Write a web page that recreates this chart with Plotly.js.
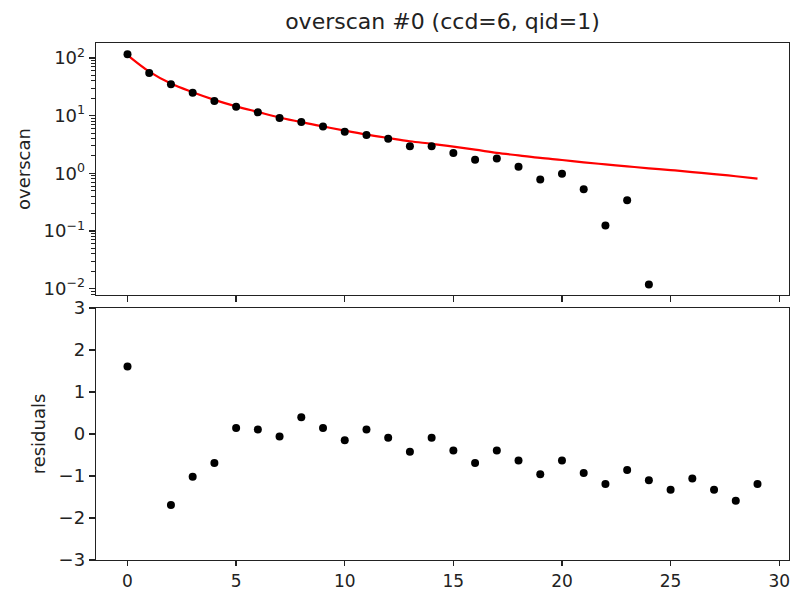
<!DOCTYPE html>
<html>
<head>
<meta charset="utf-8">
<script src="https://cdn.plot.ly/plotly-3.0.1.min.js"></script>
<style>html,body{margin:0;padding:0;background:#fff;}#chart{width:792px;height:591px;}</style>
</head>
<body>
<div id="chart"></div>
<script>
// ---- data ----
const dataX = [0,1,2,3,4,5,6,7,8,9,10,11,12,13,14,15,16,17,18,19,20,21,22,23,24];
const dataY = [116,55,34.9,25,17.9,14.3,11.4,9.08,7.74,6.5,5.25,4.6,3.97,2.96,2.96,2.24,1.72,1.81,1.30,0.78,0.98,0.53,0.125,0.34,0.0118];

const fitX = [0,1,2,3,4,5,6,7,8,9,10,11,12,13,14,15,16,17,18,19,20,21,22,23,24,25,26,27,28,29];
const fitY = [112,58,36,25.5,18.8,14.5,11.6,9.3,7.7,6.5,5.5,4.7,4.1,3.6,3.25,2.9,2.58,2.26,2.05,1.85,1.70,1.55,1.43,1.32,1.22,1.14,1.05,0.97,0.89,0.81];

const resX = [0,2,3,4,5,6,7,8,9,10,11,12,13,14,15,16,17,18,19,20,21,22,23,24,25,26,27,28,29];
const resY = [1.61,-1.69,-1.02,-0.69,0.14,0.11,-0.06,0.40,0.14,-0.15,0.11,-0.09,-0.42,-0.09,-0.39,-0.69,-0.39,-0.63,-0.96,-0.63,-0.93,-1.19,-0.86,-1.10,-1.33,-1.06,-1.33,-1.59,-1.19];

const logTickVals = [0.01,0.1,1,10,100];
const logTickText = ['10<sup>−2</sup>','10<sup>−1</sup>','10<sup>0</sup>','10<sup>1</sup>','10<sup>2</sup>'];
const xTickVals = [0,5,10,15,20,25,30];
const resTickVals = [-3,-2,-1,0,1,2,3];

// minor log ticks (axis decoration)
const minorVals = [];
for (let e = -3; e <= 2; e++) for (let m = 2; m <= 9; m++) minorVals.push(m * Math.pow(10, e));

const font = {family: 'DejaVu Sans, sans-serif', size: 18, color: '#222'};
const xfont = {family: 'DejaVu Sans, sans-serif', size: 17, color: '#222'};

const traces = [
  {x: fitX, y: fitY, xaxis: 'x', yaxis: 'y', mode: 'lines', line: {color: '#ff0000', width: 2.2, shape: 'spline'}, hoverinfo: 'skip'},
  {x: dataX, y: dataY, xaxis: 'x', yaxis: 'y', mode: 'markers', marker: {color: '#000', size: 8}},
  {x: resX, y: resY, xaxis: 'x2', yaxis: 'y2', mode: 'markers', marker: {color: '#000', size: 8}}
];

const axCommon = {showgrid: false, zeroline: false, showline: true, linecolor: '#222', linewidth: 1.3, mirror: true,
  ticks: 'outside', ticklen: 6, tickwidth: 1.3, tickcolor: '#222', tickfont: font};

const layout = {
  width: 792, height: 591,
  margin: {l: 96, r: 3, t: 43, b: 31},
  paper_bgcolor: '#fff', plot_bgcolor: '#fff',
  showlegend: false,
  font: font,
  title: {text: 'overscan #0 (ccd=6, qid=1)', font: {family: 'DejaVu Sans, sans-serif', size: 22, color: '#222'},
    x: 0.5, xref: 'paper', y: 1 - 21/591, yref: 'container', yanchor: 'middle'},
  xaxis: Object.assign({}, axCommon, {domain: [0,1], range: [-1.45, 30.45], tickmode: 'array', tickvals: xTickVals, showticklabels: false, anchor: 'y'}),
  yaxis: Object.assign({}, axCommon, {domain: [0.5126, 1], type: 'log', range: [-2.11, 2.26], tickmode: 'array',
    tickvals: logTickVals, ticktext: logTickText, anchor: 'x',
    minor: {tickmode: 'array', tickvals: minorVals, ticks: 'outside', ticklen: 3.5, tickwidth: 1, tickcolor: '#222', showgrid: false},
    title: {text: 'overscan', font: font, standoff: 8}}),
  xaxis2: Object.assign({}, axCommon, {domain: [0,1], range: [-1.45, 30.45], tickmode: 'array', tickvals: xTickVals, anchor: 'y2',
    ticklen: 5, tickfont: xfont}),
  yaxis2: Object.assign({}, axCommon, {domain: [0, 0.4874], range: [-3, 3], tickmode: 'array', tickvals: resTickVals, anchor: 'x2',
    title: {text: 'residuals', font: font, standoff: 8}})
};

Plotly.newPlot('chart', traces, layout, {displayModeBar: false, staticPlot: true});
</script>
</body>
</html>
